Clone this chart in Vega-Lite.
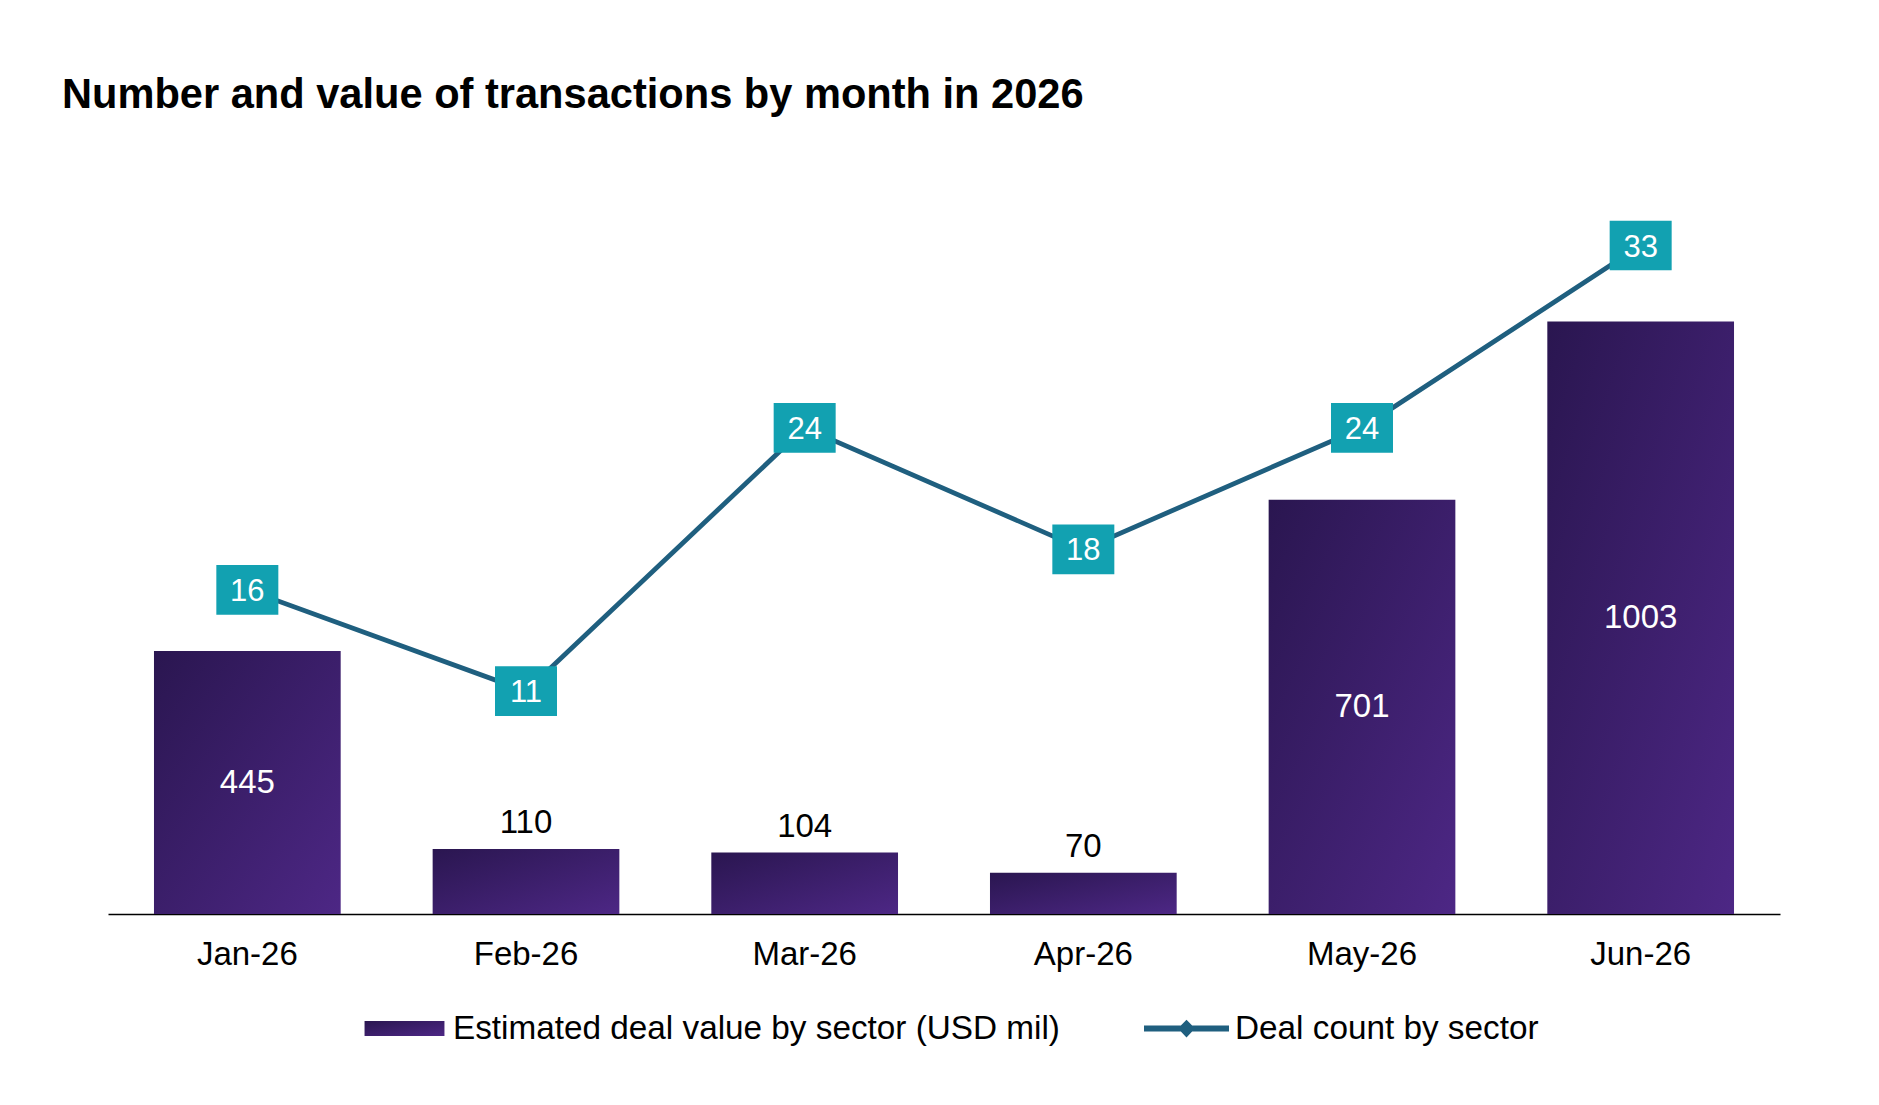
{
  "$schema": "https://vega.github.io/schema/vega-lite/v6.json",
  "width": 1672,
  "height": 709,
  "autosize": {"type": "none"},
  "padding": {"left": 108, "top": 205, "right": 99, "bottom": 191},
  "background": "white",
  "config": {
    "view": {"stroke": null},
    "font": "Liberation Sans"
  },
  "title": {
    "text": "Number and value of transactions by month in 2026",
    "anchor": "start",
    "frame": "group",
    "font": "Liberation Sans",
    "fontSize": 41.6,
    "fontWeight": "bold",
    "color": "black",
    "dx": -46,
    "offset": 88
  },
  "data": {
    "values": [
      {"month": "Jan-26", "value": 445, "count": 16},
      {"month": "Feb-26", "value": 110, "count": 11},
      {"month": "Mar-26", "value": 104, "count": 24},
      {"month": "Apr-26", "value": 70, "count": 18},
      {"month": "May-26", "value": 701, "count": 24},
      {"month": "Jun-26", "value": 1003, "count": 33}
    ]
  },
  "encoding": {
    "x": {
      "field": "month",
      "type": "ordinal",
      "sort": null,
      "scale": {"paddingInner": 0.33, "paddingOuter": 0.165},
      "axis": {
        "title": null,
        "labelAngle": 0,
        "labelFont": "Liberation Sans",
        "labelFontSize": 33,
        "labelColor": "black",
        "labelPadding": 24,
        "ticks": false,
        "tickSize": 0,
        "domainColor": "black",
        "domainWidth": 1.6,
        "grid": false
      }
    }
  },
  "layer": [
    {
      "mark": {
        "type": "bar",
        "fill": {
          "gradient": "linear",
          "x1": 0, "y1": 0, "x2": 1, "y2": 1,
          "stops": [
            {"offset": 0, "color": "#2a1650"},
            {"offset": 1, "color": "#4d2785"}
          ]
        }
      },
      "encoding": {
        "y": {
          "field": "value",
          "type": "quantitative",
          "scale": {"domain": [0, 1200]},
          "axis": null
        }
      }
    },
    {
      "transform": [
        {"filter": "datum.value >= 400"},
        {"calculate": "datum.value / 2", "as": "mid"}
      ],
      "mark": {
        "type": "text",
        "font": "Liberation Sans",
        "fontSize": 33,
        "color": "white",
        "baseline": "middle"
      },
      "encoding": {
        "y": {"field": "mid", "type": "quantitative", "scale": {"domain": [0, 1200]}, "axis": null},
        "text": {"field": "value", "type": "quantitative"}
      }
    },
    {
      "transform": [{"filter": "datum.value < 400"}],
      "mark": {
        "type": "text",
        "font": "Liberation Sans",
        "fontSize": 33,
        "color": "black",
        "baseline": "alphabetic",
        "dy": -16
      },
      "encoding": {
        "y": {"field": "value", "type": "quantitative", "scale": {"domain": [0, 1200]}, "axis": null},
        "text": {"field": "value", "type": "quantitative"}
      }
    },
    {
      "layer": [
        {
          "mark": {"type": "line", "strokeWidth": 4.8},
          "encoding": {
            "y": {"field": "count", "type": "quantitative", "scale": {"domain": [0, 35]}, "axis": null},
            "color": {
              "datum": "Deal count by sector",
              "type": "nominal",
              "scale": {
                "domain": ["Estimated deal value by sector (USD mil)", "Deal count by sector"],
                "range": ["#3b1e6b", "#1f5f7f"]
              },
              "legend": {
                "title": null,
                "orient": "none",
                "legendX": 254,
                "legendY": 781,
                "direction": "horizontal",
                "padding": 0,
                "labelFont": "Liberation Sans",
                "labelFontSize": 33.3,
                "labelColor": "black",
                "labelOffset": 6,
                "labelLimit": 1000,
                "columnPadding": 84,
                "symbolSize": 7225,
                "encode": {
                  "symbols": {
                    "update": {
                      "shape": {"signal": "datum.value === 'Deal count by sector' ? 'M-1,-0.07H-0.133L0,-0.21L0.133,-0.07H1V0.07H0.133L0,0.21L-0.133,0.07H-1Z' : 'M-0.94,-0.176H0.94V0.176H-0.94Z'"},
                      "fill": {"signal": "datum.value === 'Deal count by sector' ? '#1f5f7f' : {gradient: 'linear', x1: 0, y1: 0, x2: 1, y2: 1, stops: [{offset: 0, color: '#2a1650'}, {offset: 1, color: '#4d2785'}]}"},
                      "stroke": {"value": "transparent"},
                      "strokeWidth": {"value": 0},
                      "opacity": {"value": 1}
                    }
                  }
                }
              }
            }
          }
        },
        {
          "mark": {
            "type": "point",
            "shape": "M-1,-0.8H1V0.8H-1Z",
            "size": 3844,
            "filled": true,
            "fill": "#12a1b1",
            "opacity": 1,
            "strokeWidth": 0
          },
          "encoding": {
            "y": {"field": "count", "type": "quantitative", "scale": {"domain": [0, 35]}, "axis": null}
          }
        },
        {
          "mark": {
            "type": "text",
            "font": "Liberation Sans",
            "fontSize": 31,
            "color": "white",
            "baseline": "middle",
            "dy": 2
          },
          "encoding": {
            "y": {"field": "count", "type": "quantitative", "scale": {"domain": [0, 35]}, "axis": null},
            "text": {"field": "count", "type": "quantitative"}
          }
        }
      ]
    }
  ],
  "resolve": {"scale": {"y": "independent"}}
}
